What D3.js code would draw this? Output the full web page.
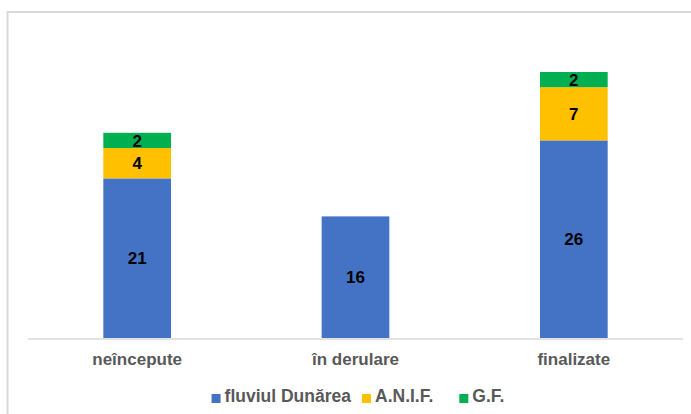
<!DOCTYPE html>
<html>
<head>
<meta charset="utf-8">
<script src="https://cdn.jsdelivr.net/npm/d3@7"></script>
<style>
  body { margin: 0; background: #fff; }
  text { font-family: Arial, "Liberation Sans", sans-serif; }
</style>
</head>
<body>
<div id="chart"></div>
<script>
// categories + series
var categories = ["neîncepute", "în derulare", "finalizate"];
var seriesNames = ["fluviul Dunărea", "A.N.I.F.", "G.F."];
var dunarea = [21, 16, 26];
var anif = [4, 0, 7];
var gf = [2, 0, 2];
var colors = ["#4472C4", "#FFC000", "#00B050"];

var width = 691, height = 414;

var svg = d3.select("#chart").append("svg")
  .attr("width", width)
  .attr("height", height)

// chart area border (only left + top visible)
svg.append("path")
  .attr("d", "M7.5," + height + "V12H" + width)
  .style("fill", "none")
  .style("stroke", "#d9d9d9")
  .style("stroke-width", 2)

var x = d3.scaleBand().domain(categories).range([28, 683]).padding(0);
var y = d3.scaleLinear().domain([0, 40]).range([338, 34]);
var barW = x.bandwidth() * 0.31;

var rows = categories.map(function(c, i) {
  return { cat: c, "fluviul Dunărea": dunarea[i], "A.N.I.F.": anif[i], "G.F.": gf[i] };
});
var stacked = d3.stack().keys(seriesNames)(rows);

var layers = svg.selectAll(".layer")
  .data(stacked)
  .enter()
  .append("g")
    .attr("class", "layer")
    .style("fill", function(d, i) { return colors[i]; })

layers.selectAll("rect")
  .data(function(d) { return d.filter(function(p) { return p[1] - p[0] > 0; }); })
  .enter()
  .append("rect")
    .attr("x", function(d) { return x(d.data.cat) + x.bandwidth() / 2 - barW / 2; })
    .attr("y", function(d) { return y(d[1]); })
    .attr("width", barW)
    .attr("height", function(d) { return y(d[0]) - y(d[1]); })

// value labels
layers.selectAll(".val")
  .data(function(d) { return d.filter(function(p) { return p[1] - p[0] > 0; }); })
  .enter()
  .append("text")
    .attr("class", "val")
    .attr("x", function(d) { return x(d.data.cat) + x.bandwidth() / 2; })
    .attr("y", function(d) { return (y(d[0]) + y(d[1])) / 2; })
    .attr("dy", "0.36em")
    .attr("text-anchor", "middle")
    .style("fill", "#000")
    .style("font-size", "17px")
    .style("font-weight", "bold")
    .text(function(d) { return d[1] - d[0]; })

// baseline
svg.append("line")
  .attr("x1", x.range()[0]).attr("x2", x.range()[1])
  .attr("y1", y(0) + 1).attr("y2", y(0) + 1)
  .style("stroke", "#d9d9d9")
  .style("stroke-width", 1.5)

// category labels
svg.selectAll(".cat")
  .data(categories)
  .enter()
  .append("text")
    .attr("class", "cat")
    .attr("x", function(d) { return x(d) + x.bandwidth() / 2; })
    .attr("y", 365)
    .attr("text-anchor", "middle")
    .style("fill", "#595959")
    .style("font-size", "17px")
    .style("font-weight", "bold")
    .text(function(d) { return d; })

// legend
var legend = svg.append("g").attr("class", "legend");
var gaps = [0, 11, 26];
var lx = 0;
seriesNames.forEach(function(name, i) {
  lx += gaps[i];
  var g = legend.append("g").attr("transform", "translate(" + lx + ",0)");
  g.append("rect")
    .attr("x", 0).attr("y", 394)
    .attr("width", 9).attr("height", 9)
    .style("fill", colors[i])
  var t = g.append("text")
    .attr("x", 13).attr("y", 402)
    .style("fill", "#595959")
    .style("font-size", "17.5px")
    .style("font-weight", "bold")
    .text(name)
  lx += 13 + t.node().getComputedTextLength();
});
legend.attr("transform", "translate(" + (358 - lx / 2) + ",0)");
</script>
</body>
</html>
